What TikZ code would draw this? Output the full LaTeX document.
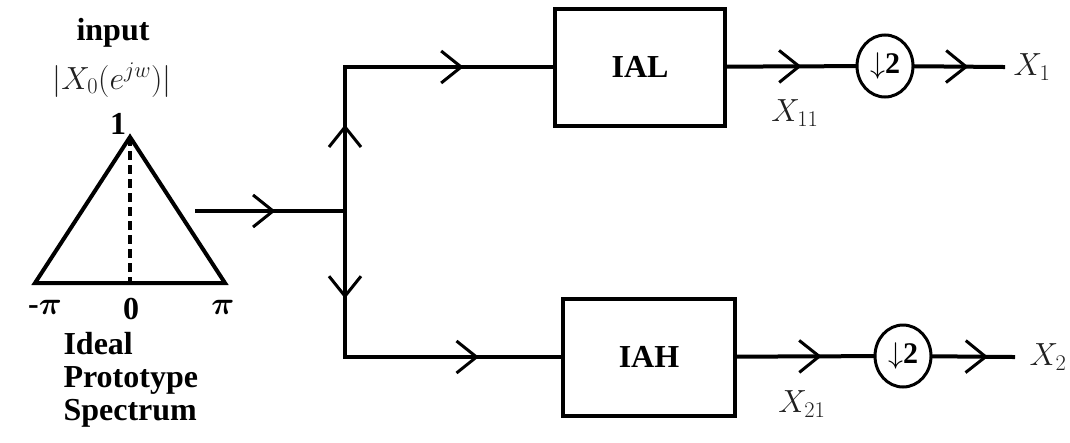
\RequirePackage{fix-cm}
\documentclass[tikz,border=0pt]{standalone}
\usepackage{amsmath, amssymb}
\usepackage{fontspec}
\setmainfont{Liberation Serif}
\usepackage{xcolor}
\usepackage{tikz}
\usetikzlibrary{
  arrows.meta,
  calc,
  shapes.geometric,
  decorations.markings
}
\definecolor{labelgray}{gray}{0.12}
\tikzset{
  wire/.style={
    line width=4pt,
    line cap=rect},
  flow/.style={
    wire,
    postaction={decorate},
    decoration={markings,
      mark=at position #1 with {\arrow{Straight Barb[length=20pt,width=32pt,line width=3pt]}}}},
  blk/.style={
    draw,
    line width=4pt,
    minimum width=170pt,
    minimum height=117pt,
    font=\fontsize{32}{36}\selectfont\bfseries},
  dn/.style={
    draw,
    ellipse,
    line width=3pt,
    minimum width=56pt,
    minimum height=62pt,
    inner sep=0pt,
    font=\fontsize{30}{32}\selectfont\bfseries},
  lbl/.style={
    text=labelgray,
    font=\fontsize{32}{36}\selectfont},
  txt/.style={
    font=\fontsize{32}{33}\selectfont\bfseries\boldmath}
  }

\begin{document}
\begin{tikzpicture}[x=1pt, y=-1pt]
      \useasboundingbox (0,0) rectangle (1070,442);
      % prototype spectrum
      \coordinate (pk) at (130,137);
      \coordinate (lo) at (35,283);
      \coordinate (hi) at (225,283);
      \draw [line width=4pt, line join=miter] (lo) -- (pk) -- (hi) -- cycle;
      \draw [line width=4pt, dash pattern=on 9pt off 5pt] (pk) -- (pk |- lo);
      \node [txt] (inp) at (113,33) {input};
      \node [lbl] (mag) at (112,80) {$|X_0(e^{jw})|$};
      \node [txt] (one) at (118,124) {1};
      \node [txt] (mpi) at (45,307) {-$\pi$};
      \node [txt] (zero) at (131,309) {0};
      \node [txt] (ppi) at (223,307) {$\pi$};
      \node [txt, align=left, anchor=north west] (cap) at (60,329) {Ideal\\Prototype\\Spectrum};
      % analysis branches
      \coordinate (src) at (197,211);
      \coordinate (split) at (345,211);
      \coordinate (top) at (345,67);
      \coordinate (bot) at (345,357);
      \node [blk] (ial) at (640,67) {IAL};
      \node [blk, minimum width=172pt] (iah) at (649,357) {IAH};
      \node [dn] (d1) at (885,66) {$\downarrow$2};
      \node [dn] (d2) at (903,356) {$\downarrow$2};
      \coordinate (o1) at (1003,67);
      \coordinate (o2) at (1013,357);
      \draw [flow=0.53] (src) -- (split);
      \draw [flow=0.6] (split) -- (top);
      \draw [flow=0.6] (split) -- (bot);
      \draw [flow=0.57] (top) -- (ial);
      \draw [flow=0.62] (bot) -- (iah);
      \draw [flow=0.58] (ial) -- (d1);
      \draw [flow=0.61] (d1) -- (o1);
      \draw [flow=0.62] (iah) -- (d2);
      \draw [flow=0.69] (d2) -- (o2);
      \node [lbl] (x11) at (795,113) {$X_{11}$};
      \node [lbl] (x21) at (802,404) {$X_{21}$};
      \node [lbl] (x1) at (1032,67) {$X_1$};
      \node [lbl] (x2) at (1048,357) {$X_2$};
    \end{tikzpicture}
\end{document}
